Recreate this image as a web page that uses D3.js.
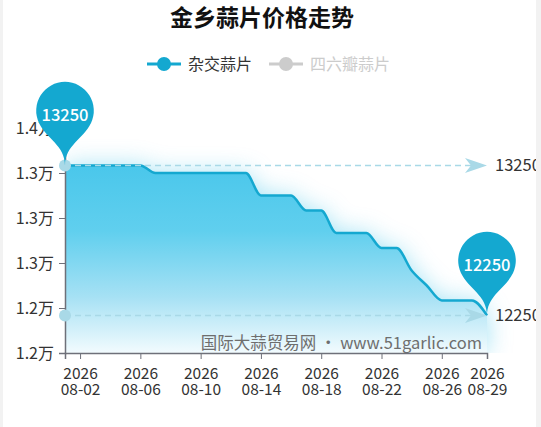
<!DOCTYPE html>
<html><head><meta charset="utf-8">
<script src="https://cdn.jsdelivr.net/npm/d3@7/dist/d3.min.js"></script>
<style>
html,body{margin:0;padding:0;background:#f2f2f2;}
#wrap{position:absolute;left:3px;top:0;width:533px;height:427px;overflow:hidden;background:#fff;}
svg{display:block;font-family:"Noto Sans CJK SC","Noto Sans",sans-serif;}
</style></head>
<body><div id="wrap"></div>
<script>
const title = "金乡蒜片价格走势";
const seriesNames = ["杂交蒜片", "四六瓣蒜片"];
const dates = ["2026-08-01","2026-08-02","2026-08-03","2026-08-04","2026-08-05","2026-08-06","2026-08-07","2026-08-08","2026-08-09","2026-08-10","2026-08-11","2026-08-12","2026-08-13","2026-08-14","2026-08-15","2026-08-16","2026-08-17","2026-08-18","2026-08-19","2026-08-20","2026-08-21","2026-08-22","2026-08-23","2026-08-24","2026-08-25","2026-08-26","2026-08-27","2026-08-28","2026-08-29"];
const hybridValues = [13250,13250,13250,13250,13250,13250,13200,13200,13200,13200,13200,13200,13200,13050,13050,13050,12950,12950,12800,12800,12800,12700,12700,12550,12450,12350,12350,12350,12250];
const xTickDates = ["2026-08-02","2026-08-06","2026-08-10","2026-08-14","2026-08-18","2026-08-22","2026-08-26","2026-08-29"];
const yTicks = [12000,12300,12600,12900,13200,13500];
const watermark = "国际大蒜贸易网 · www.51garlic.com";

const parse = d3.timeParse("%Y-%m-%d");
const data = dates.map((d,i)=>({date:parse(d), value:hybridValues[i]}));

const svg = d3.select("#wrap").append("svg").attr("width",533).attr("height",427);
const root = svg.append("g").attr("transform","translate(-3,0)");

const x = d3.scaleTime().domain([parse(dates[0]), parse(dates[dates.length-1])]).range([65,487]);
const y = d3.scaleLinear().domain([12000,13500]).range([353,128]);

const mainColor = "#14a8d0";
const lightColor = "#a9d9e7";

const defs = svg.append("defs");
const grad = defs.append("linearGradient").attr("id","areaGrad").attr("gradientUnits","userSpaceOnUse")
  .attr("x1",0).attr("y1",y(13250)).attr("x2",0).attr("y2",353);
[[0,"#4ac7eb"],[0.35,"#60cfee"],[0.7,"#a6e1f4"],[1,"#f2fbfe"]].forEach(([o,c])=>grad.append("stop").attr("offset",o).attr("stop-color",c));
const blur = defs.append("filter").attr("id","glow").attr("x","-20%").attr("y","-30%").attr("width","140%").attr("height","160%");
blur.append("feGaussianBlur").attr("stdDeviation",12);
defs.append("clipPath").attr("id","plotClip").append("rect").attr("x",68).attr("y",90).attr("width",480).attr("height",263);

// Title
root.append("text").attr("x",262).attr("y",26).attr("text-anchor","middle")
  .attr("font-size",23).attr("font-weight","bold").attr("fill","#111").text(title);

// Legend
const legendItems = [{name:seriesNames[0], color:mainColor, text:"#333", x:147},{name:seriesNames[1], color:"#cccccc", text:"#cccccc", x:269}];
legendItems.forEach(it=>{
  const g = root.append("g");
  g.append("line").attr("x1",it.x).attr("x2",it.x+34).attr("y1",64).attr("y2",64).attr("stroke",it.color).attr("stroke-width",3);
  g.append("circle").attr("cx",it.x+17).attr("cy",64).attr("r",7).attr("fill",it.color);
  g.append("text").attr("x",it.x+41).attr("y",64).attr("dy","0.35em").attr("font-size",16).attr("fill",it.text).text(it.name);
});

// Area glow + area
const area = d3.area().x(d=>x(d.date)).y0(353).y1(d=>y(d.value)).curve(d3.curveMonotoneX);
const line = d3.line().x(d=>x(d.date)).y(d=>y(d.value)).curve(d3.curveMonotoneX);
root.append("g").attr("clip-path","url(#plotClip)")
  .append("path").datum(data).attr("d",area).attr("fill","#58cbec").attr("opacity",0.55).attr("filter","url(#glow)");
root.append("path").datum(data).attr("d",area).attr("fill","url(#areaGrad)");

// Watermark
root.append("text").attr("x",482).attr("y",343).attr("dy","0.35em").attr("text-anchor","end")
  .attr("font-size",16.5).attr("fill","#6e6e6e").text(watermark);

// Axes
const yAxis = d3.axisLeft(y).tickValues(yTicks).tickSize(6).tickPadding(5).tickFormat(v=>(v/10000).toFixed(1)+"万");
const gy = root.append("g").attr("transform","translate(65,0)").call(yAxis);
gy.select(".domain").attr("stroke","#6e7079").attr("stroke-width",1.5);
gy.selectAll(".tick line").attr("stroke","#6e7079");
gy.selectAll(".tick text").attr("font-size",16).attr("fill","#333").attr("font-family","Noto Sans CJK SC");

const xAxis = d3.axisBottom(x).tickValues(xTickDates.map(parse)).tickSize(6).tickFormat("");
const gx = root.append("g").attr("transform","translate(0,353)").call(xAxis);
gx.select(".domain").attr("stroke","#6e7079").attr("stroke-width",1.5);
gx.selectAll(".tick line").attr("stroke","#6e7079");
gx.selectAll(".tick").each(function(d){
  const t = d3.select(this);
  t.append("text").attr("fill","#333").attr("font-size",15.5).attr("text-anchor","middle").attr("font-family","Noto Sans CJK SC")
    .attr("x",0).attr("y",26).text(d3.timeFormat("%Y")(d));
  t.append("text").attr("fill","#333").attr("font-size",15.5).attr("text-anchor","middle").attr("font-family","Noto Sans CJK SC")
    .attr("x",0).attr("y",42).text(d3.timeFormat("%m-%d")(d));
});

// Line
root.append("path").datum(data).attr("d",line).attr("fill","none").attr("stroke",mainColor).attr("stroke-width",2.5);

// Mark lines (max / min)
const maxV = d3.max(hybridValues), minV = d3.min(hybridValues);
[maxV,minV].forEach(v=>{
  const yy = y(v), x0 = x.range()[0], x1 = x.range()[1];
  root.append("line").attr("x1",x0).attr("x2",x1-14).attr("y1",yy).attr("y2",yy)
    .attr("stroke",lightColor).attr("stroke-width",1.5).attr("stroke-dasharray","6,4");
  root.append("circle").attr("cx",x0).attr("cy",yy).attr("r",6).attr("fill",lightColor);
  root.append("path").attr("d",`M${x1},${yy} L${x1-22},${yy-7.5} L${x1-16},${yy} L${x1-22},${yy+7.5} Z`).attr("fill",lightColor);
  root.append("text").attr("x",x1+8).attr("y",yy).attr("dy","0.35em").attr("font-size",16.5).attr("fill","#333").text(v);
});

// Pins (mark points)
function pinPath(tx, ty, size){
  const w = size/5*3, h = Math.max(w,size), r = w/2;
  const dy = r*r/(h-r), cy = ty - h + r + dy;
  const ang = Math.asin(dy/r), dx = Math.cos(ang)*r, tanX = Math.sin(ang), tanY = Math.cos(ang);
  const cp = r*0.6, cp2 = r*0.7;
  const p = d3.path();
  p.moveTo(tx-dx, cy+dy);
  p.arc(tx, cy, r, Math.PI-ang, Math.PI*2+ang);
  p.bezierCurveTo(tx+dx-tanX*cp, cy+dy+tanY*cp, tx, ty-cp2, tx, ty);
  p.bezierCurveTo(tx, ty-cp2, tx-dx+tanX*cp, cy+dy+tanY*cp, tx-dx, cy+dy);
  p.closePath();
  return p.toString();
}
const pins = [data[0], data[data.length-1]];
pins.forEach(d=>{
  const tx = x(d.date), ty = y(d.value);
  root.append("path").attr("d",pinPath(tx,ty,96)).attr("fill",mainColor);
  root.append("text").attr("x",tx).attr("y",ty-50).attr("dy","0.35em").attr("text-anchor","middle")
    .attr("font-size",16.5).attr("font-weight","500").attr("fill","#fff").text(d.value);
});
</script></body></html>
